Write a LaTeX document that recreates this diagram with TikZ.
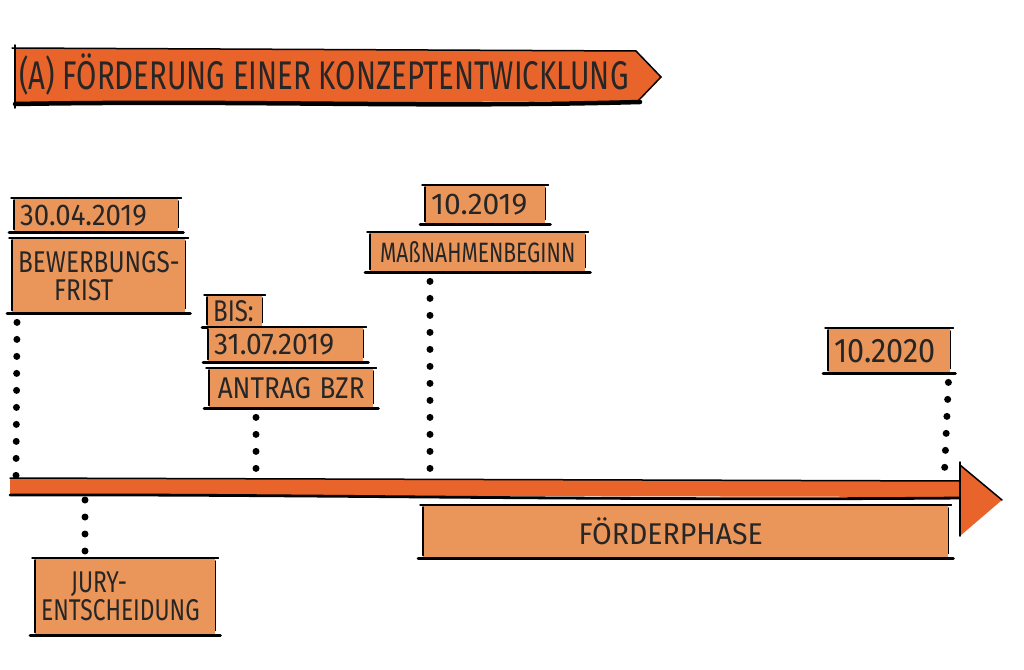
\documentclass[tikz,border=0pt]{standalone}
\usepackage{fontspec}
\setmainfont{Fira Sans}
\usepackage{graphicx}
\definecolor{bannerorange}{HTML}{E8642B}
\definecolor{boxorange}{HTML}{EA955A}
\newcommand{\hw}[2][0.72]{\scalebox{#1}[1]{#2}}
\newcommand{\skbox}[1]{%
  \draw[edge] ([xshift=-3pt]#1.north west) -- ([xshift=3pt]#1.north east);
  \draw[base] ([xshift=-5pt]#1.south west) -- ([xshift=5pt]#1.south east);
  \draw[edge] ([yshift=-2pt]#1.north west) -- ([yshift=3pt]#1.south west);
  \draw[edge] ([yshift=-3pt]#1.north east) -- ([yshift=5pt]#1.south east);
}
\begin{document}
\begin{tikzpicture}[x=1pt,y=-1pt,
  box/.style={fill=boxorange, draw=none, inner xsep=6pt, inner ysep=0pt, anchor=north west,
    font=\fontsize{30}{32}\selectfont, text=black!85},
  edge/.style={draw=black, line width=1.5pt, line cap=round},
  base/.style={draw=black, line width=2.8pt, line cap=round},
  dots/.style={draw=black, line width=7pt, line cap=round, dash pattern=on 0pt off 17pt},
]
\useasboundingbox (0,0) rectangle (1024,669);
\fill[white] (0,0) rectangle (1024,669);

% ---- title banner ----
\fill[bannerorange] (15,48) -- (636,51) -- (661,77) -- (638,101) -- (15,104) -- cycle;
\draw[edge] (15,45) -- (15,108);
\draw[edge] (12,48) -- (636,51) -- (661,77) -- (638,101);
\draw[black, line width=4.5pt, line cap=round] (15,104) .. controls (250,100) and (420,108) .. (640,102);
\node[anchor=west, inner sep=0pt, font=\fontsize{40}{42}\selectfont, text=black!85] (title) at (19,75)
  {\hw[0.735]{(A) FÖRDERUNG EINER KONZEPTENTWICKLUNG}};

% ---- timeline ----
\fill[bannerorange] (10,478) -- (962,481) -- (962,497) -- (10,495) -- cycle;
\draw[edge] (10,478) -- (962,481);
\draw[base] (10,495) .. controls (300,494) and (600,501) .. (962,498);
\fill[bannerorange] (960,465) -- (1002,500) -- (960,536) -- cycle;
\draw[edge] (960,462) -- (960,536);
\draw[edge] (960,465) -- (1002,500);

\coordinate (t1) at (16,476);
\coordinate (t2) at (256,473);
\coordinate (t3) at (430,475);
\coordinate (t4) at (944,483);
\coordinate (b1) at (85,500);

% ---- boxes ----
\node[box, minimum width=164, minimum height=34, text width=152, align=left] (d1) at (14,198) {\hw[0.92]{30.04.2019}};
\skbox{d1}
\node[box, minimum width=173, minimum height=75, text width=161, align=left] (bf) at (12,238)
  {\hw[0.81]{BEWERBUNGS-}\\[-4pt]\hspace*{36pt}\hw[0.81]{FRIST}};
\skbox{bf}
\node[box, minimum width=55, minimum height=32, text width=43, align=left] (bis) at (207,295) {\hw[0.8]{BIS:}};
\skbox{bis}
\node[box, minimum width=155, minimum height=35, text width=143, align=left] (d2) at (208,327) {\hw[0.94]{31.07.2019}};
\skbox{d2}
\node[box, minimum width=164, minimum height=40, text width=152, align=center] (ab) at (209,368) {\hw[0.87]{ANTRAG BZR}};
\skbox{ab}
\node[box, minimum width=120, minimum height=39, text width=108, align=left] (d3) at (425,185) {\hw[1.0]{10.2019}};
\skbox{d3}
\node[box, minimum width=215, minimum height=40, text width=203, align=center, font=\fontsize{28}{30}\selectfont] (mb) at (370,232) {\hw[0.75]{MAßNAHMENBEGINN}};
\skbox{mb}
\node[box, minimum width=122, minimum height=45, text width=110, align=left, font=\fontsize{34}{36}\selectfont] (d4) at (828,328) {\hw[0.9]{10.2020}};
\skbox{d4}
\node[box, minimum width=180, minimum height=77, text width=168, align=left] (jury) at (35,558)
  {\hspace*{30pt}\hw[0.76]{JURY-}\\[-4pt]\hw[0.76]{ENTSCHEIDUNG}};
\skbox{jury}
\node[box, minimum width=525, minimum height=53, text width=513, align=center] (fp) at (423,505) {\hspace*{-30pt}\hw[0.95]{FÖRDERPHASE}};
\skbox{fp}

% ---- dotted connectors ----
\draw[dots] ([xshift=5pt,yshift=-9pt]bf.south west) -- (t1);
\draw[dots] ([xshift=47pt,yshift=-9pt]ab.south west) -- (t2);
\draw[dots] ([xshift=60pt,yshift=-9pt]mb.south west) -- (t3);
\draw[dots] ([xshift=-2pt,yshift=-9pt]d4.south east) -- (t4);
\draw[dots] (b1) -- ([xshift=50pt,yshift=4pt]jury.north west);
\end{tikzpicture}
\end{document}
